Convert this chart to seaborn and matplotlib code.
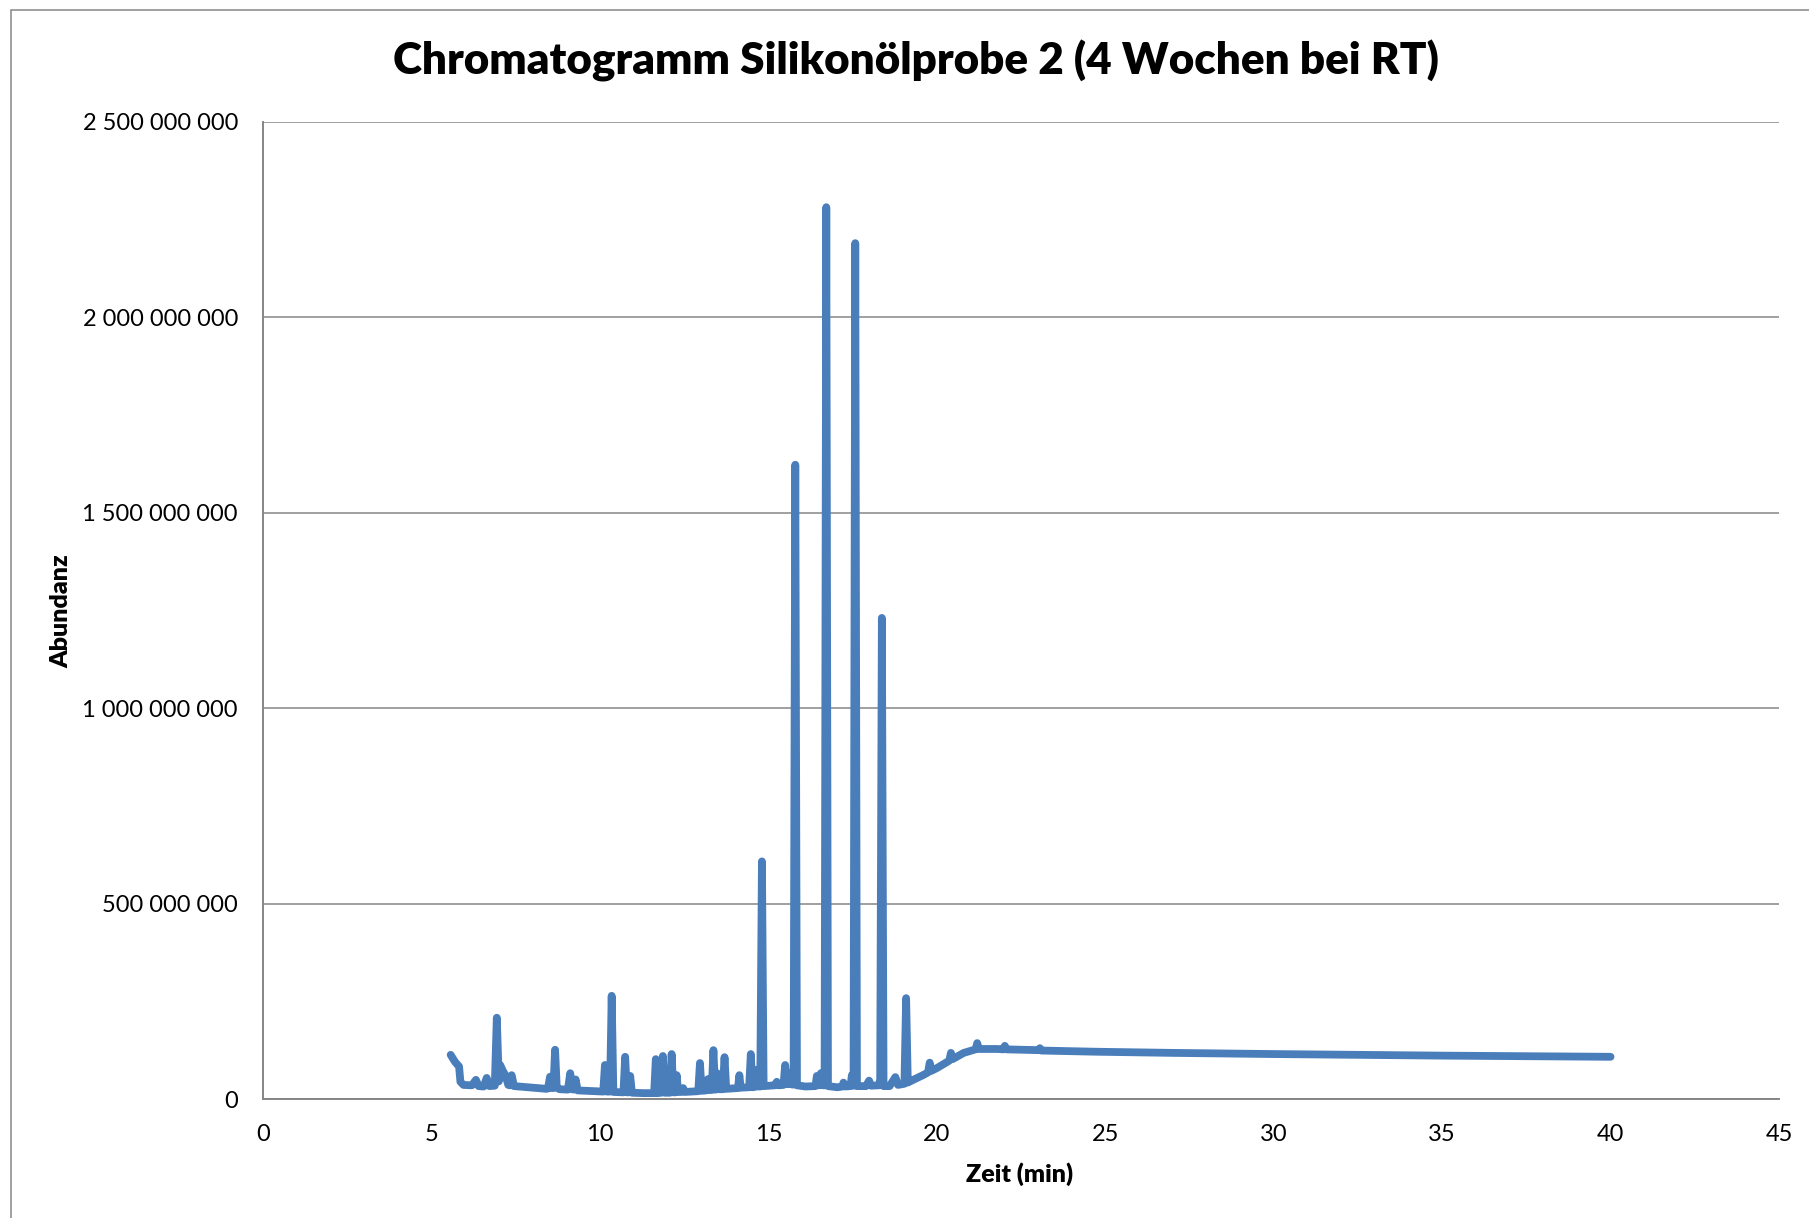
import numpy as np
import pandas as pd
import matplotlib
matplotlib.use("Agg")
import matplotlib.pyplot as plt
from matplotlib.patches import Rectangle
from matplotlib.ticker import FuncFormatter
import seaborn as sns

# Retention time (min) and detector abundance (millions of counts)
zeit_min = [
    5.57, 5.70, 5.82, 5.86, 5.95, 6.20, 6.32, 6.40, 6.55, 6.64, 6.72, 6.88, 6.94, 7.00,
    7.04, 7.12, 7.20, 7.28, 7.33, 7.38, 7.45, 7.72, 8.10, 8.42, 8.46, 8.52, 8.57, 8.62,
    8.67, 8.72, 8.80, 9.05, 9.12, 9.18, 9.22, 9.28, 9.34, 9.60, 9.91, 10.10, 10.15, 10.20,
    10.30, 10.35, 10.40, 10.70, 10.75, 10.80, 10.86, 10.90, 10.95, 11.30, 11.61, 11.66,
    11.71, 11.82, 11.87, 11.92, 12.08, 12.13, 12.18, 12.24, 12.28, 12.32, 12.42, 12.47,
    12.52, 12.92, 12.97, 13.02, 13.16, 13.21, 13.26, 13.32, 13.37, 13.42, 13.44, 13.48,
    13.52, 13.65, 13.70, 13.75, 14.10, 14.14, 14.18, 14.43, 14.48, 14.53, 14.60, 14.64,
    14.68, 14.76, 14.81, 14.86, 15.20, 15.25, 15.30, 15.45, 15.50, 15.55, 15.62, 15.65,
    15.70, 15.75, 15.80, 15.85, 16.10, 16.40, 16.44, 16.50, 16.56, 16.62, 16.67, 16.72,
    16.77, 17.05, 17.20, 17.23, 17.28, 17.44, 17.48, 17.53, 17.58, 17.63, 17.90, 17.99,
    18.05, 18.28, 18.32, 18.37, 18.42, 18.60, 18.77, 18.85, 19.04, 19.09, 19.14, 19.30,
    19.59, 19.74, 19.79, 19.84, 20.00, 20.37, 20.42, 20.47, 20.80, 21.15, 21.20, 21.25,
    21.80, 21.98, 22.02, 22.06, 23.02, 23.06, 23.10, 24.70, 27.00, 30.00, 32.50, 35.00,
    37.50, 40.00,
]
abundanz_mio = [
    113, 95, 83, 44, 36, 35, 49, 33, 32, 54, 33, 34, 208, 45,
    87, 72, 60, 36, 35, 61, 33, 31, 28, 26, 27, 57, 28, 28,
    126, 29, 25, 24, 66, 25, 24, 50, 22, 21, 20, 19, 87, 19,
    19, 264, 18, 17, 108, 17, 17, 59, 16, 15, 15, 102,
    15, 16, 110, 16, 16, 115, 17, 17, 61, 18, 18, 28,
    18, 20, 92, 21, 22, 51, 23, 23, 125, 24, 24, 66,
    25, 25, 107, 26, 28, 61, 29, 30, 115, 30, 31, 74,
    32, 32, 608, 33, 35, 44, 35, 36, 87, 38, 38, 67,
    37, 37, 1623, 35, 32, 33, 59, 35, 66, 35, 35, 2282,
    33, 30, 32, 42, 32, 33, 61, 34, 2190, 33, 33, 47,
    34, 35, 50, 1231, 33, 33, 56, 36, 39, 258, 42, 49,
    61, 68, 93, 72, 79, 98, 118, 102, 118, 127, 143, 128,
    128, 127, 136, 127, 125, 130, 124, 121, 118, 115, 113, 111,
    109.5, 108,
]

x_ticks = list(range(0, 50, 5))
y_ticks = [0, 500e6, 1000e6, 1500e6, 2000e6, 2500e6]

title = "Chromatogramm Silikonölprobe 2 (4 Wochen bei RT)"
x_label = "Zeit (min)"
y_label = "Abundanz"

LINE = "#4A7EBB"
GREY = "#868686"

sns.set_style("white")
plt.rcParams["font.family"] = ["Lato", "DejaVu Sans"]

W, H = 1809, 1218
fig = plt.figure(figsize=(W / 100, H / 100), dpi=100)
fig.patch.set_facecolor("white")

# chart frame
fig.patches.append(Rectangle((11 / W, -0.05), 1.2, 1 - 10 / H + 0.05,
                             transform=fig.transFigure, fill=False,
                             edgecolor=GREY, linewidth=1.1, zorder=0))

ax = fig.add_axes([263 / W, 1 - 1099 / H, (1779 - 263) / W, (1099 - 122) / H])

df = pd.DataFrame({"Zeit": zeit_min, "Abundanz": np.array(abundanz_mio) * 1e6})
sns.lineplot(data=df, x="Zeit", y="Abundanz", ax=ax, color=LINE, linewidth=5.6,
             estimator=None, sort=False, solid_capstyle="round",
             solid_joinstyle="round", zorder=3)

ax.set_xlim(0, 45)
ax.set_ylim(0, 2.5e9)
ax.set_xticks(x_ticks)
ax.set_yticks(y_ticks)
ax.yaxis.set_major_formatter(FuncFormatter(lambda v, p: f"{v:,.0f}".replace(",", " ")))
ax.xaxis.set_major_formatter(FuncFormatter(lambda v, p: f"{v:.0f}"))

ax.grid(axis="y", color=GREY, linewidth=1.1)
ax.grid(axis="x", visible=False)
ax.set_axisbelow(True)
for s in ["top", "right"]:
    ax.spines[s].set_visible(False)
for s in ["left", "bottom"]:
    ax.spines[s].set_color(GREY)
    ax.spines[s].set_linewidth(1.4)

ax.tick_params(axis="both", which="major", direction="out", length=6, width=1.2,
               color=GREY, labelsize=17, labelcolor="black", pad=12)

ax.set_xlabel("")
ax.set_ylabel("")

fig.text(916 / W, 1 - 61 / H, title, ha="center", va="center",
         fontsize=31.7, fontweight="heavy", color="black")
fig.text(1020 / W, 1 - 1174 / H, x_label, ha="center", va="center",
         fontsize=18, fontweight="heavy", color="black")
fig.text(61 / W, 1 - 611 / H, y_label, ha="center", va="center", rotation=90,
         fontsize=18, fontweight="heavy", color="black")

fig.savefig("out.png", dpi=100, facecolor="white")
